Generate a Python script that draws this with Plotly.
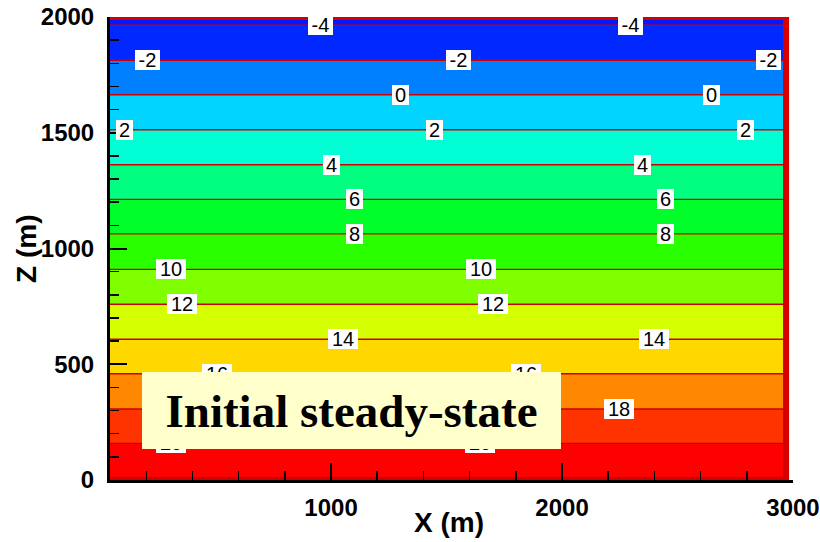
import plotly.graph_objects as go

# ---- data ----
# temperature profile (depth in m, temperature in deg C) - isotherm crossings
depth_m = [0, 10, 158, 307, 459, 608, 759, 910, 1063, 1212, 1362, 1513, 1664, 1813, 1965, 2000]
temp_c = [22.13, 22, 20, 18, 16, 14, 12, 10, 8, 6, 4, 2, 0, -2, -4, -4.46]
x_domain = [30, 2970]

level_start, level_end, level_step = -4, 22, 2
band_colors = [
    "#0018ff",  # < -4
    "#0028ff",  # -4..-2
    "#0080ff",  # -2..0
    "#00d4ff",  # 0..2
    "#00ffd4",  # 2..4
    "#00ff80",  # 4..6
    "#00ff2a",  # 6..8
    "#2aff00",  # 8..10
    "#80ff00",  # 10..12
    "#d4ff00",  # 12..14
    "#ffd800",  # 14..16
    "#ff8800",  # 16..18
    "#ff3300",  # 18..20
    "#ff0000",  # 20..22
    "#d40000",  # > 22
]

label_levels = [-4, -4, -2, -2, -2, 0, 0, 2, 2, 2, 4, 4, 6, 6, 8, 8,
                10, 10, 12, 12, 14, 14, 16, 16, 18, 18, 20, 20]
label_x = [953, 2296, 205, 1550, 2893, 1300, 2645, 104, 1450, 2793, 1000, 2347,
           1100, 2448, 1100, 2448, 307, 1649, 353, 1701, 1051, 2399, 506, 1846,
           897, 2245, 307, 1646]

x_ticks = [1000, 2000, 3000]
z_ticks = [0, 500, 1000, 1500, 2000]
x_title = "X (m)"
z_title = "Z (m)"
box_text = "Initial steady-state"

# ---- figure ----
z_grid = [[t, t] for t in temp_c]
n_levels = int(round((level_end - level_start) / level_step)) + 1
colorscale = [[k / n_levels, c] for k, c in enumerate(band_colors)]

fig = go.Figure()
fig.add_trace(go.Contour(
    x=x_domain, y=depth_m, z=z_grid,
    autocontour=False,
    contours=dict(start=level_start, end=level_end, size=level_step,
                  coloring="fill", showlabels=False),
    colorscale=colorscale, showscale=False,
    line=dict(color="#cc0000", width=1.4),
    hoverinfo="skip",
))
fig.add_trace(go.Scatter(
    x=[x_domain[0], x_domain[1], x_domain[1]],
    y=[max(depth_m), max(depth_m), min(depth_m)],
    mode="lines", line=dict(color="#d40000", width=6),
    hoverinfo="skip",
))

# level -> depth lookup
level_depth = {t: d for t, d in zip(temp_c, depth_m)}

annotations = []
for lev, lx in zip(label_levels, label_x):
    txt = str(lev)
    w = 17 if len(txt) == 1 else (25 if txt.startswith("-") else 30)
    annotations.append(dict(
        x=lx, y=level_depth[lev], xref="x", yref="y", text=txt,
        showarrow=False, bgcolor="white", borderpad=0, borderwidth=0,
        width=w, height=20, xanchor="center", yanchor="middle",
        font=dict(family="Liberation Sans, Arial", size=20, color="black"),
    ))

annotations.append(dict(
    x=0.4963, y=0, xref="paper", yref="paper", yshift=-42,
    text=x_title, showarrow=False, xanchor="center", yanchor="middle",
    font=dict(family="Liberation Sans, Arial", size=28, color="black", weight="bold"),
))
annotations.append(dict(
    x=0, y=0.499, xref="paper", yref="paper", xshift=-83,
    text=z_title, showarrow=False, xanchor="center", yanchor="middle", textangle=-90,
    font=dict(family="Liberation Sans, Arial", size=28, color="black", weight="bold"),
))
annotations.append(dict(
    x=0.3536, y=0.1501, xref="paper", yref="paper",
    text=box_text, showarrow=False, xanchor="center", yanchor="middle",
    bgcolor="#ffffcc", borderpad=0, borderwidth=0, width=419, height=77,
    font=dict(family="Liberation Serif, Times New Roman", size=47, color="black", weight="bold"),
))

tickfont = dict(family="Liberation Sans, Arial", size=24, color="black", weight="bold")
fig.update_layout(
    width=820, height=542,
    margin=dict(l=110, r=27, t=17, b=62, autoexpand=False),
    paper_bgcolor="white", plot_bgcolor="white",
    showlegend=False,
    hovermode=False,
    annotations=annotations,
    xaxis=dict(
        range=[43, 3000], tickvals=x_ticks, ticks="inside", ticklen=17, tickwidth=2,
        tickcolor="black", showline=True, linewidth=3, linecolor="black",
        showgrid=False, zeroline=False, tickfont=tickfont, ticklabelstandoff=4,
        automargin=False, ticklabeloverflow="allow",
        minor=dict(dtick=200, tick0=0, ticks="inside", ticklen=9, tickwidth=1.5,
                   tickcolor="black", showgrid=False),
    ),
    yaxis=dict(
        range=[0, 2000], tickvals=z_ticks, ticks="inside", ticklen=17, tickwidth=2,
        tickcolor="black", showline=True, linewidth=3, linecolor="black",
        showgrid=False, zeroline=False, tickfont=tickfont, ticklabelstandoff=8,
        automargin=False, ticklabeloverflow="allow",
        minor=dict(dtick=100, tick0=0, ticks="inside", ticklen=9, tickwidth=1.5,
                   tickcolor="black", showgrid=False),
    ),
)

# remove the default page margin so the 820x542 figure fills the window
fig.write_html(
    "out.html",
    config={"displayModeBar": False, "staticPlot": True},
    post_script="document.body.style.margin='0px';document.body.style.overflow='hidden';",
)
